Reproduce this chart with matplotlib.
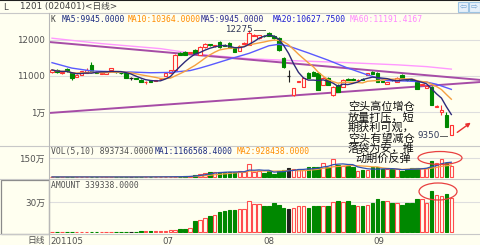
import matplotlib
matplotlib.use('Agg')
import matplotlib.pyplot as plt
from matplotlib.patches import Rectangle, Ellipse, FancyArrowPatch
import numpy as np
import pandas as pd

plt.rcParams['font.family'] = ['DejaVu Sans', 'Noto Sans CJK SC']

BG = '#fffff0'
W, H = 481, 245
RED = '#ff3333'
GREEN = '#008800'
DOJI = '#202020'

# ---------------- data ----------------
opens = [11100, 11170, 11080, 11200, 11080, 10980, 11030, 11080, 11300, 11110,
         11060, 11060, 11170, 11140, 11080, 11080, 10945, 10940, 10900, 10820,
         10870, 10870, 10920, 11000, 11080, 11170, 11640, 11670, 11640, 11720,
         11580, 11800, 11880, 11820, 11940, 11860, 11920, 11780, 11700, 11900,
         11860, 12120, 12050, 12120, 12200, 12110, 12050, 11500, 11000, 10470,
         10830, 10700, 11080, 11110, 11080, 10750, 10950, 10470, 10750, 10700,
         10920, 10920, 10880, 10920, 11030, 11110, 11080, 10850, 10780, 10900,
         10830, 11030, 10900, 10920, 10830, 10750, 10670, 10700, 10150, 10000,
         9920, 9350]
highs = [11180, 11190, 11120, 11230, 11100, 11050, 11140, 11220, 11380, 11130,
         11100, 11140, 11230, 11150, 11090, 11090, 10960, 10950, 10910, 10850,
         10880, 10900, 10940, 11090, 11180, 11620, 11680, 11700, 11680, 11760,
         11820, 11930, 11900, 11870, 11960, 11880, 11940, 11800, 11850, 11950,
         12275, 12170, 12140, 12140, 12220, 12130, 12070, 11520, 11170, 10680,
         10870, 10960, 11100, 11130, 11100, 10960, 10970, 10710, 10770, 10910,
         10940, 10940, 10910, 10940, 11090, 11130, 11100, 10870, 10840, 10920,
         10960, 11050, 10910, 10930, 10840, 10790, 10730, 10720, 10190, 10200,
         10000, 9650]
lows = [11080, 11090, 11060, 11120, 10900, 10960, 11020, 11070, 11100, 11070,
        11050, 11050, 11160, 11090, 11060, 10940, 10880, 10910, 10820, 10790,
        10830, 10860, 10910, 10990, 11070, 11160, 11570, 11570, 11630, 11630,
        11570, 11790, 11830, 11810, 11790, 11830, 11770, 11660, 11690, 11880,
        11850, 12100, 12040, 12090, 12100, 12040, 11700, 11230, 10830, 10440,
        10820, 10690, 10940, 10990, 10600, 10740, 10740, 10440, 10550, 10690,
        10890, 10890, 10870, 10890, 11020, 11050, 10820, 10820, 10770, 10870,
        10820, 10940, 10870, 10870, 10630, 10740, 10660, 10190, 10140, 9920,
        9570, 9350]
closes = [11170, 11100, 11110, 11130, 10950, 11030, 11130, 11170, 11110, 11080,
          11090, 11130, 11220, 11100, 11070, 10950, 10945, 10920, 10830, 10840,
          10840, 10890, 10930, 11080, 11170, 11580, 11580, 11580, 11660, 11640,
          11800, 11900, 11850, 11850, 11800, 11840, 11780, 11670, 11840, 11930,
          12200, 12150, 12130, 12100, 12110, 12050, 11720, 11250, 11000, 10670,
          10860, 10950, 10950, 11000, 10610, 10950, 10750, 10700, 10560, 10900,
          10900, 10900, 10900, 10900, 11080, 11060, 10830, 10830, 10830, 10880,
          10950, 10950, 10880, 10880, 10640, 10780, 10720, 10200, 10180, 10050,
          9580, 9640]

# volume (万手)
volume = ([0.6] * 18 +
          [1, 1, 1, 1.5, 1.5, 2, 2, 3, 3, 4] +
          [10, 17, 25, 32, 37, 43, 37, 37, 43, 37, 50] +
          [43, 100, 37, 50, 35, 45, 25, 50, 55, 70, 60, 60, 55, 75, 75, 80, 112,
           80, 140, 95, 90, 90, 75, 50, 55, 55, 75, 75, 60, 60, 60, 60, 50, 66,
           70, 70, 68, 72, 128, 111.6, 142, 112, 89.3734])
# amount / open interest (万)
amount = ([0.5] * 18 +
          [1, 1, 1, 1, 1, 1.5, 2, 2, 3, 3] +
          [4, 11, 12, 14, 16, 17, 20, 21, 22, 22, 23] +
          [23, 31, 28, 28, 26, 26, 29, 27, 24, 23, 24, 26, 26, 24, 26, 26, 26,
           26, 30, 31, 30, 31, 27, 26, 26, 27, 29, 33, 31, 31, 29, 29, 27, 29,
           29, 33, 33, 29, 41, 37, 36, 38, 33.9338])

ma20_idx = [0, 4, 8, 12, 16, 20, 24, 28, 30, 32, 36, 40, 44, 46, 48, 52, 56,
            60, 64, 68, 72, 76, 78, 81]
ma20_val = [11370, 11220, 11140, 11120, 11110, 11090, 11100, 11150, 11220,
            11300, 11470, 11630, 11840, 11880, 11830, 11640, 11440, 11220,
            11030, 10870, 10860, 10830, 10770, 10628]
ma60_idx = [0, 10, 22, 30, 40, 50, 60, 70, 76, 81]
ma60_val = [12050, 11900, 11760, 11600, 11480, 11420, 11370, 11310, 11260, 11191]

trend_upper_x = [-0.6, 87.0]
trend_upper_y = [11944, 10889]
trend_lower_x = [-0.6, 87.0]
trend_lower_y = [9972, 10833]

price_ticks = [12000, 11000, 10000]
price_tick_labels = ['12000', '11000', '1万']
vol_ticks = [150]
vol_tick_labels = ['150万']
amt_ticks = [30]
amt_tick_labels = ['30万']
date_pos = [-0.4, 22.3, 42.9, 65.2]
date_labels = ['201105', '07', '08', '09']

note_lines = ['空头高位增仓', '放量打压，短', '期获利可观，', '空头有望减仓',
              '落袋为安，推', '动期价反弹']

# ---------------- figure ----------------
fig = plt.figure(figsize=(W / 100, H / 100), dpi=100, facecolor=BG)


def frac(x0, y0, x1, y1):
    return [x0 / W, 1 - y1 / H, (x1 - x0) / W, (y1 - y0) / H]


XL = (-0.61, 87.02)
ax = fig.add_axes(frac(49, 14, 481, 146), facecolor=BG)
axv = fig.add_axes(frac(49, 146, 481, 179), facecolor=BG)
axa = fig.add_axes(frac(49, 179, 481, 233), facecolor=BG)
for a in (ax, axv, axa):
    a.set_xlim(*XL)
    for s in a.spines.values():
        s.set_visible(False)
    a.tick_params(length=0, labelsize=6.3, labelcolor='#505050', pad=3)
    a.set_axisbelow(True)
    a.yaxis.grid(True, color='#dedede', lw=0.8)
    a.set_xticks([])

ax.set_ylim(9055, 12722)
axv.set_ylim(-15.8, 244.7)
axa.set_ylim(-1, 53)
ax.set_yticks(price_ticks, price_tick_labels)
axv.set_yticks(vol_ticks, vol_tick_labels)
axa.set_yticks(amt_ticks, amt_tick_labels)
axa.set_xticks(date_pos, date_labels)
for t in axa.get_xticklabels():
    t.set_ha('left')
axa.tick_params(axis='x', labelsize=6.2, pad=3)
axa.xaxis.grid(False)

x = np.arange(len(closes))
bw = 0.72
colors = []
for i in x:
    o, h, l, c = opens[i], highs[i], lows[i], closes[i]
    if c > o:
        col = RED
    elif c < o:
        col = GREEN
    else:
        col = DOJI
    colors.append(col)
    ax.vlines(i, l, h, color=col, lw=0.8, zorder=3)
    if c != o:
        ax.add_patch(Rectangle((i - bw / 2, min(o, c)), bw, abs(c - o),
                               facecolor=BG if c > o else col, edgecolor=col,
                               lw=0.8, zorder=4))
    else:
        ax.hlines(o, i - bw / 2, i + bw / 2, color=col, lw=0.9, zorder=4)

cs = pd.Series(closes, dtype=float)
ma5 = cs.rolling(5, min_periods=1).mean()
ma10 = cs.rolling(10, min_periods=1).mean()
ax.plot(ma60_idx, ma60_val, color='#ff99ff', lw=1.0, zorder=2)
ax.plot(trend_upper_x, trend_upper_y, color='#a64ca6', lw=1.4, zorder=2)
ax.plot(trend_lower_x, trend_lower_y, color='#a64ca6', lw=1.4, zorder=2)
ax.plot(ma20_idx, ma20_val, color='#5a5aff', lw=1.0, zorder=5)
ax.plot(x, ma10, color='#f5a040', lw=1.0, zorder=5)
ax.plot(x, ma5, color='#2e2a78', lw=1.0, zorder=5)

bar_face = [BG if c == RED else (GREEN if c == GREEN else DOJI) for c in colors]
bar_edge = ['#ff4d4d' if c == RED else (GREEN if c == GREEN else DOJI) for c in colors]
axv.bar(x, volume, width=bw, color=bar_face, edgecolor=bar_edge, lw=0.8, zorder=3)
axa.bar(x, amount, width=bw, color=bar_face, edgecolor=bar_edge, lw=0.8, zorder=3)
vs = pd.Series(volume, dtype=float)
axv.plot(x, vs.rolling(10, min_periods=1).mean(), color='#f5a040', lw=0.9, zorder=4)
axv.plot(x, vs.rolling(5, min_periods=1).mean(), color='#3050b0', lw=0.9, zorder=4)

# ---------------- overlay (pixel space) ----------------
ov = fig.add_axes([0, 0, 1, 1], facecolor='none', zorder=10)
ov.set_xlim(0, W)
ov.set_ylim(H, 0)
ov.axis('off')

ov.plot([0, W], [0.5, 0.5], color='#202020', lw=1.5)
ov.plot([0, W], [13.5, 13.5], color='#c8c8c8', lw=0.8)
for yy in (146, 179, 233.5):
    ov.plot([0, W], [yy, yy], color='#c8c8c8', lw=0.8)
ov.plot([49, 49], [13.5, H], color='#b8b8b8', lw=0.8)
ov.add_patch(Rectangle((0.5, 179.5), 48.5, 54.5, fill=False, edgecolor='#8a8a8a', lw=0.9))

ov.text(3, 7, 'L', fontsize=6, color='#404040', va='center', ha='left')
ov.text(20, 7, '1201 (020401)<日线>', fontsize=6.3, color='#404040', va='center', ha='left')
for bx, arr in ((458, '⇦'), (469.5, '⇨')):
    ov.add_patch(Rectangle((bx, 2.5), 10.5, 9.5, facecolor='#e6f0fa', edgecolor='#9cc4e4', lw=0.8))
    ov.text(bx + 5.25, 7.3, arr, fontsize=6, color='#6fa0d0', ha='center', va='center')

mono = 'DejaVu Sans Mono'
hdr = [(51, 'K', '#404040'), (62, 'MA5:9945.0000', '#1a2a80'),
       (128, 'MA10:10364.0000', '#ff8c00'), (201, 'MA5:9945.0000', '#2a2a90'),
       (273, 'MA20:10627.7500', '#1a1ad0'), (350, 'MA60:11191.4167', '#ff88ff')]
for hx, t, c in hdr:
    ov.text(hx, 19.5, t, fontsize=5.8, family=mono, color=c, va='center', ha='left')
vh = [(51, 'VOL(5,10) 893734.0000', '#505050'), (155, 'MA1:1166568.4000', '#1a2a80'),
      (237, 'MA2:928438.0000', '#ff8c00')]
for hx, t, c in vh:
    ov.text(hx, 151, t, fontsize=5.8, family=mono, color=c, va='center', ha='left')
ov.text(51, 185, 'AMOUNT 339338.0000', fontsize=5.8, family=mono, color='#505050',
        va='center', ha='left')
ov.text(45, 240, '日线', fontsize=6.3, color='#505050', va='center', ha='right')

ov.text(253, 30, '12275', fontsize=6.3, color='#303858', va='center', ha='right')
ov.plot([254, 265], [30.5, 30.5], color='#606060', lw=0.7)
ov.text(418, 135.5, '9350', fontsize=6.3, color='#303858', va='center', ha='left')
ov.plot([440, 447], [136, 136], color='#606060', lw=0.7)

ys = [107, 117.4, 127.8, 138.2, 148.6, 159]
for k, (t, yy) in enumerate(zip(note_lines, ys)):
    ov.text(355 if k == 5 else 348, yy, t, fontsize=8, color='#101010',
            family=['Noto Sans CJK SC'], va='center', ha='left')

ov.add_patch(FancyArrowPatch((455, 134), (473, 121), arrowstyle='-|>',
                             mutation_scale=6, color='#e83030', lw=1.0))
ov.add_patch(Ellipse((440, 158), 44, 13, fill=False, edgecolor='#e84040', lw=0.9))
ov.add_patch(Ellipse((438, 191.5), 38, 17, fill=False, edgecolor='#e84040', lw=0.9))

fig.savefig('out.png', dpi=100, facecolor=BG)
